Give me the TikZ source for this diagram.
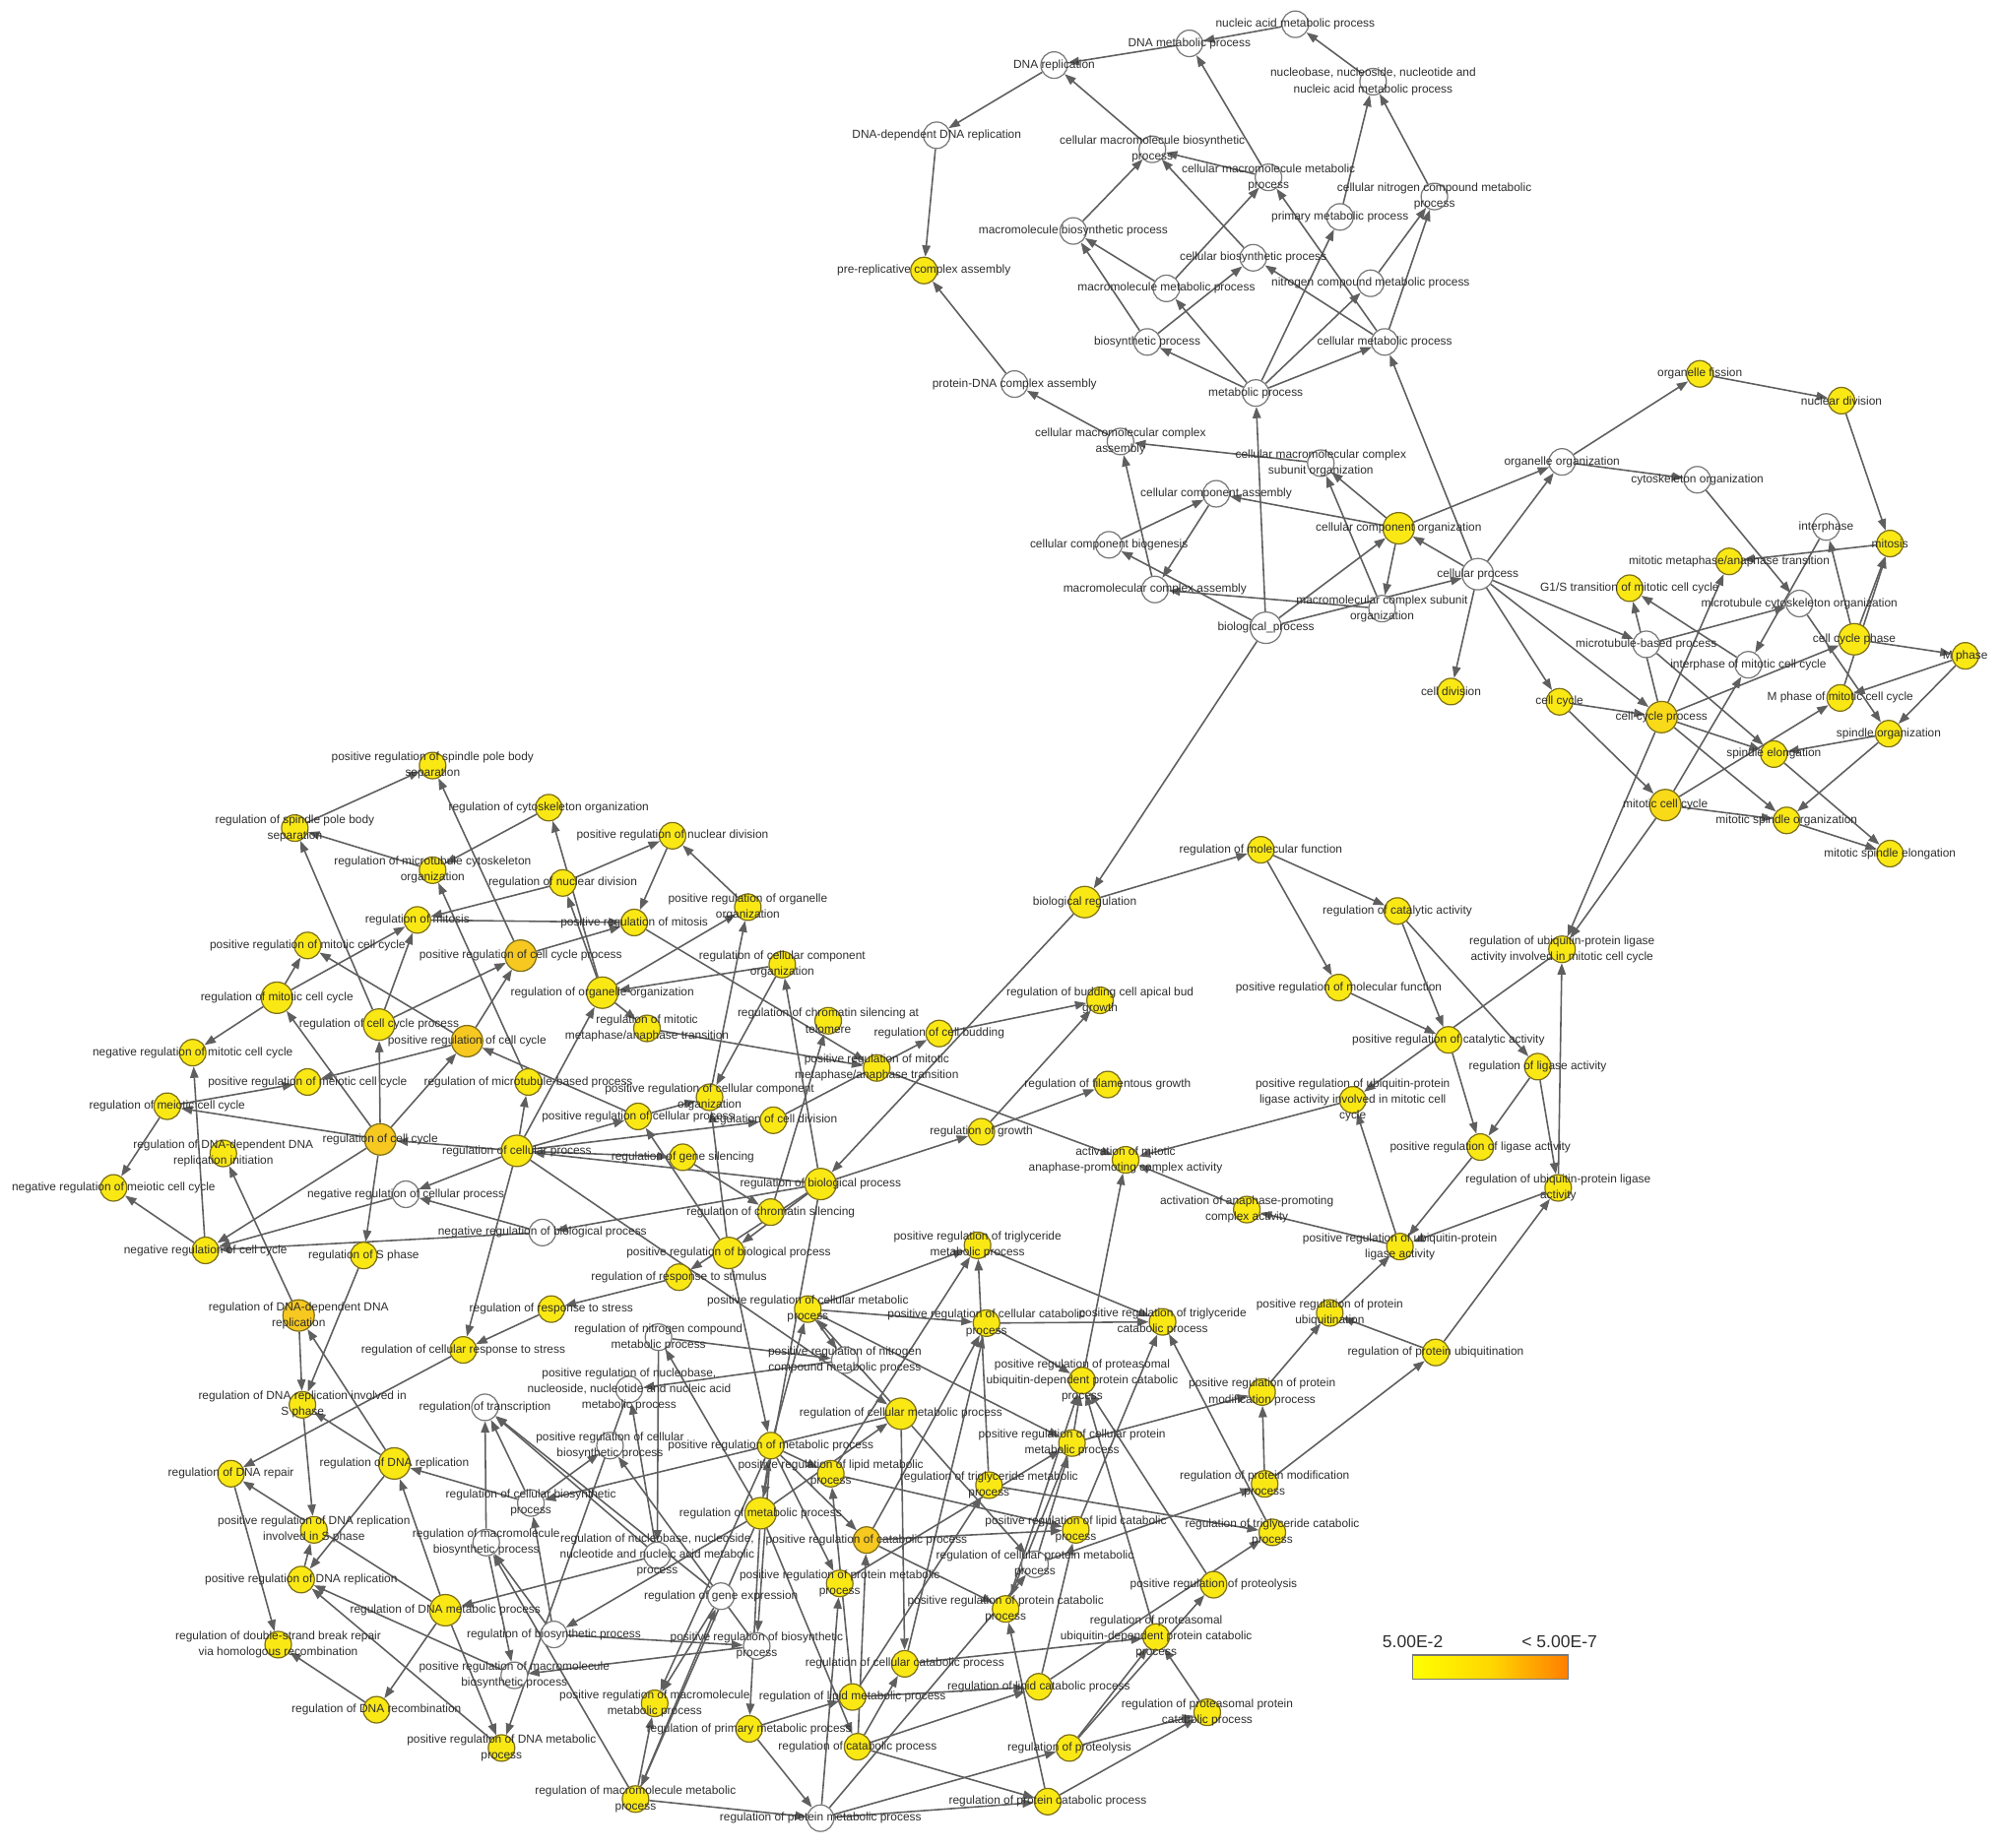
\documentclass[tikz,border=0pt]{standalone}
\usepackage{fontspec}
\setmainfont{Liberation Sans}
\usetikzlibrary{arrows.meta}
\pgfdeclarelayer{bg}
\pgfdeclarelayer{fg}
\pgfsetlayers{bg,main,fg}
\definecolor{goY}{RGB}{250,232,20}
\definecolor{goYd}{RGB}{248,218,24}
\definecolor{goO}{RGB}{246,200,32}
\definecolor{goYb}{RGB}{125,112,25}
\definecolor{goWb}{RGB}{120,120,120}
\definecolor{goEdge}{RGB}{95,95,95}
\definecolor{goText}{RGB}{45,45,45}
\definecolor{legY}{RGB}{255,255,0}
\definecolor{legM}{RGB}{255,215,0}
\definecolor{legO}{RGB}{255,125,0}
\newcommand\gn[4][]{%
 \node[gocirc,#1] (#2) at (#3) {};
 \begin{pgfonlayer}{fg}\node[golab] (#2-l) at (#3) {#4};\end{pgfonlayer}}
\tikzset{
 gocirc/.style={circle, draw=goYb, fill=goY, line width=0.35pt, minimum size=0.27cm, inner sep=0pt},
 gw/.style={fill=white, draw=goWb},
 go/.style={fill=goO},
 gd/.style={fill=goYd},
 gbig/.style={minimum size=0.32cm},
 golab/.style={font=\fontsize{3.4}{4.6}\selectfont, text=goText, align=center, inner sep=0pt},
 goedge/.style={draw=goEdge, line width=0.45pt, -{Triangle[length=3.3pt,width=2.4pt]}},
 leglab/.style={font=\fontsize{5}{6}\selectfont, text=goText, inner sep=0pt}
}
\begin{document}
\begin{tikzpicture}[x=0.013cm,y=-0.013cm]
\useasboundingbox (0,0) rectangle (1568,1448);
% ---- top cluster
\gn[gw]{NAMP}{1015,19}{nucleic acid metabolic process}
\gn[gw]{DMP}{932,34}{DNA metabolic process}
\gn[gw]{DR}{826,51}{DNA replication}
\gn[gw]{NNN}{1076,64}{nucleobase, nucleoside, nucleotide and\\nucleic acid metabolic process}
\gn[gw]{DDR}{734,106}{DNA-dependent DNA replication}
\gn[gw]{CMBP}{903,117}{cellular macromolecule biosynthetic\\process}
\gn[gw]{CMMP}{994,139}{cellular macromolecule metabolic\\process}
\gn[gw]{CNCMP}{1124,154}{cellular nitrogen compound metabolic\\process}
\gn[gw]{PMP}{1050,170}{primary metabolic process}
\gn[gw]{MBP}{841,181}{macromolecule biosynthetic process}
\gn[gw]{CBP}{982,202}{cellular biosynthetic process}
\gn[gw]{MMP}{914,226}{macromolecule metabolic process}
\gn[gw]{NCMP}{1074,222}{nitrogen compound metabolic process}
\gn{PRCA}{724,212}{pre-replicative complex assembly}
\gn[gw]{BP}{899,268}{biosynthetic process}
\gn[gw]{CeMP}{1085,268}{cellular metabolic process}
\gn[gw]{MP}{984,308}{metabolic process}
\gn[gw]{PDCA}{795,301}{protein-DNA complex assembly}
\gn[gw]{CMCA}{878,346}{cellular macromolecular complex\\assembly}
\gn[gw]{CMCSO}{1035,363}{cellular macromolecular complex\\subunit organization}
\gn[gw]{OO}{1224,362}{organelle organization}
\gn{OF}{1332,293}{organelle fission}
\gn{ND}{1443,314}{nuclear division}
\gn[gw]{CO}{1330,376}{cytoskeleton organization}
\gn[gw]{CCA}{953,387}{cellular component assembly}
\gn[gbig]{CCO}{1096,414}{cellular component organization}
\gn[gw]{CCB}{869,427}{cellular component biogenesis}
\gn[gw]{IP}{1431,413}{interphase}
\gn{MIT}{1481,426}{mitosis}
\gn{MMAT}{1355,440}{mitotic metaphase/anaphase transition}
\gn[gw,gbig]{CP}{1158,450}{cellular process}
\gn[gw]{MCA}{905,462}{macromolecular complex assembly}
\gn{G1S}{1277,461}{G1/S transition of mitotic cell cycle}
\gn[gw]{MCO}{1410,473}{microtubule cytoskeleton organization}
\gn[gw]{MCSO}{1083,477}{macromolecular complex subunit\\organization}
\gn[gw,gbig]{BPr}{992,492}{biological\_process}
\gn[gw]{MBPr}{1290,505}{microtubule-based process}
\gn[gbig]{CCP}{1453,501}{cell cycle phase}
\gn[gw]{IMCC}{1370,521}{interphase of mitotic cell cycle}
\gn{MPh}{1540,514}{M phase}
\gn{CD}{1137,542}{cell division}
\gn{MPMCC}{1442,547}{M phase of mitotic cell cycle}
\gn{CC}{1222,550}{cell cycle}
\gn[gd,gbig]{CCPr}{1302,562}{cell cycle process}
\gn{SO}{1480,575}{spindle organization}
\gn{SE}{1390,591}{spindle elongation}
\gn[gd,gbig]{MCC}{1305,631}{mitotic cell cycle}
\gn{MSO}{1400,643}{mitotic spindle organization}
\gn{MSE}{1481,669}{mitotic spindle elongation}
% ---- middle right
\gn{RMF}{988,666}{regulation of molecular function}
\gn[gbig]{BR}{850,707}{biological regulation}
\gn{RCA}{1095,714}{regulation of catalytic activity}
\gn{RUPLAMCC}{1224,744}{regulation of ubiquitin-protein ligase\\activity involved in mitotic cell cycle}
\gn{PRMF}{1049,774}{positive regulation of molecular function}
\gn{RBCABG}{862,784}{regulation of budding cell apical bud\\growth}
\gn{PRCatA}{1135,815}{positive regulation of catalytic activity}
\gn{RCB}{736,810}{regulation of cell budding}
\gn{RLA}{1205,836}{regulation of ligase activity}
\gn{RFG}{868,850}{regulation of filamentous growth}
\gn{PRUPLAMCC}{1060,862}{positive regulation of ubiquitin-protein\\ligase activity involved in mitotic cell\\cycle}
\gn{RG}{769,887}{regulation of growth}
\gn{PRLA}{1160,899}{positive regulation of ligase activity}
\gn{AMAPC}{882,909}{activation of mitotic\\anaphase-promoting complex activity}
\gn{RUPLA}{1221,931}{regulation of ubiquitin-protein ligase\\activity}
\gn{AAPC}{977,948}{activation of anaphase-promoting\\complex activity}
\gn{PRUPLA}{1097,977}{positive regulation of ubiquitin-protein\\ligase activity}
\gn{PRPU}{1042,1029}{positive regulation of protein\\ubiquitination}
\gn{RPU}{1125,1060}{regulation of protein ubiquitination}
\gn{PRPMP}{989,1091}{positive regulation of protein\\modification process}
\gn{RPMP}{991,1163}{regulation of protein modification\\process}
\gn{RTCP}{997,1201}{regulation of triglyceride catabolic\\process}
\gn{PRProt}{951,1242}{positive regulation of proteolysis}
\gn{RPPCP}{946,1342}{regulation of proteasomal protein\\catabolic process}
\gn{PRTCP}{911,1036}{positive regulation of triglyceride\\catabolic process}
\gn{PRTMP}{766,976}{positive regulation of triglyceride\\metabolic process}
\gn{PRCCP}{773,1037}{positive regulation of cellular catabolic\\process}
\gn{PRPUDPCP}{848,1082}{positive regulation of proteasomal\\ubiquitin-dependent protein catabolic\\process}
\gn{PRCPMP}{840,1131}{positive regulation of cellular protein\\metabolic process}
\gn{RTMP}{775,1164}{regulation of triglyceride metabolic\\process}
\gn{PRLCP}{843,1199}{positive regulation of lipid catabolic\\process}
\gn[gw]{RCPMP}{811,1226}{regulation of cellular protein metabolic\\process}
\gn{PRPCP}{788,1261}{positive regulation of protein catabolic\\process}
\gn{RPUDPCP}{906,1283}{regulation of proteasomal\\ubiquitin-dependent protein catabolic\\process}
\gn{RCCP}{709,1304}{regulation of cellular catabolic process}
\gn{RLCP}{814,1322}{regulation of lipid catabolic process}
\gn{RProt}{838,1370}{regulation of proteolysis}
\gn{RPCP}{821,1412}{regulation of protein catabolic process}
\gn[gw]{RPrMP}{643,1425}{regulation of protein metabolic process}
\gn{RCatP}{672,1369}{regulation of catabolic process}
\gn{RMMP}{498,1410}{regulation of macromolecule metabolic\\process}
\gn{RPMPb}{587,1355}{regulation of primary metabolic process}
\gn{PRMMP}{513,1335}{positive regulation of macromolecule\\metabolic process}
\gn{RLMP}{668,1330}{regulation of lipid metabolic process}
\gn[gw]{PRBP}{593,1290}{positive regulation of biosynthetic\\process}
\gn[gw]{RGE}{565,1251}{regulation of gene expression}
\gn{PRPrMP}{658,1241}{positive regulation of protein metabolic\\process}
\gn[go]{PRCatP}{679,1207}{positive regulation of catabolic process}
\gn[gbig]{RMP}{596,1186}{regulation of metabolic process}
\gn{PRLMP}{651,1155}{positive regulation of lipid metabolic\\process}
\gn{PRMetP}{604,1133}{positive regulation of metabolic process}
\gn[gbig]{RCMP}{706,1108}{regulation of cellular metabolic process}
\gn[gw]{PRNCMP}{662,1066}{positive regulation of nitrogen\\compound metabolic process}
\gn{PRCMP}{633,1026}{positive regulation of cellular metabolic\\process}
\gn[gw]{RNCMP}{516,1048}{regulation of nitrogen compound\\metabolic process}
\gn[gw]{PRNNN}{493,1089}{positive regulation of nucleobase,\\nucleoside, nucleotide and nucleic acid\\metabolic process}
\gn[gw]{RT}{380,1103}{regulation of transcription}
\gn[gw]{PRCBP}{478,1133}{positive regulation of cellular\\biosynthetic process}
\gn[gw]{RCBP}{416,1178}{regulation of cellular biosynthetic\\process}
\gn[gw]{RMBP}{381,1209}{regulation of macromolecule\\biosynthetic process}
\gn[gw]{RNNN}{515,1219}{regulation of nucleobase, nucleoside,\\nucleotide and nucleic acid metabolic\\process}
\gn[gbig]{RDMP}{349,1262}{regulation of DNA metabolic process}
\gn[gw]{RBP}{434,1281}{regulation of biosynthetic process}
\gn[gw]{PRMBP}{403,1313}{positive regulation of macromolecule\\biosynthetic process}
\gn{PRDMP}{393,1370}{positive regulation of DNA metabolic\\process}
\gn{RDRec}{295,1340}{regulation of DNA recombination}
\gn{RDSBR}{218,1289}{regulation of double-strand break repair\\via homologous recombination}
\gn{PRDR}{236,1238}{positive regulation of DNA replication}
\gn{PRDRS}{246,1199}{positive regulation of DNA replication\\involved in S phase}
\gn{RDRep}{181,1155}{regulation of DNA repair}
\gn[gbig]{RDRepl}{309,1147}{regulation of DNA replication}
\gn{RDRS}{237,1101}{regulation of DNA replication involved in\\S phase}
\gn[go,gbig]{RDDR}{234,1031}{regulation of DNA-dependent DNA\\replication}
\gn{RSP}{285,984}{regulation of S phase}
\gn{NRCC}{161,980}{negative regulation of cell cycle}
\gn{RCRS}{363,1058}{regulation of cellular response to stress}
\gn{RRS}{432,1026}{regulation of response to stress}
\gn{RRStim}{532,1001}{regulation of response to stimulus}
\gn[gbig]{PRBioP}{571,982}{positive regulation of biological process}
\gn[gw]{NRBioP}{425,966}{negative regulation of biological process}
\gn{RCS}{604,950}{regulation of chromatin silencing}
\gn[gbig]{RBioP}{643,928}{regulation of biological process}
\gn{RGS}{535,907}{regulation of gene silencing}
\gn[gbig]{RCP}{405,902}{regulation of cellular process}
\gn{PRCP}{500,875}{positive regulation of cellular process}
\gn{PRCCO}{556,860}{positive regulation of cellular component\\organization}
\gn{RCD}{606,878}{regulation of cell division}
\gn{RMBPr}{414,848}{regulation of microtubule-based process}
\gn{RMMAT}{507,806}{regulation of mitotic\\metaphase/anaphase transition}
\gn{PRMMAT}{687,837}{positive regulation of mitotic\\metaphase/anaphase transition}
\gn{RCST}{649,800}{regulation of chromatin silencing at\\telomere}
\gn{RCCO}{613,756}{regulation of cellular component\\organization}
\gn[gbig]{ROO}{472,778}{regulation of organelle organization}
\gn[go,gbig]{PRCCPr}{408,749}{positive regulation of cell cycle process}
\gn{PRMit}{497,723}{positive regulation of mitosis}
\gn{PROO}{586,711}{positive regulation of organelle\\organization}
\gn{RND}{441,692}{regulation of nuclear division}
\gn{PRND}{527,655}{positive regulation of nuclear division}
\gn{RCO}{430,633}{regulation of cytoskeleton organization}
\gn{PRSPBS}{339,600}{positive regulation of spindle pole body\\separation}
\gn{RSPBS}{231,649}{regulation of spindle pole body\\separation}
\gn{RMCO}{339,682}{regulation of microtubule cytoskeleton\\organization}
\gn{RMit}{327,721}{regulation of mitosis}
\gn{PRMCC}{241,741}{positive regulation of mitotic cell cycle}
\gn[go,gbig]{PRCC}{366,816}{positive regulation of cell cycle}
\gn[gbig]{RMCC}{217,782}{regulation of mitotic cell cycle}
\gn[gbig]{RCCPr}{297,803}{regulation of cell cycle process}
\gn{NRMCC}{151,825}{negative regulation of mitotic cell cycle}
\gn{PRMeCC}{241,848}{positive regulation of meiotic cell cycle}
\gn{RMeCC}{131,867}{regulation of meiotic cell cycle}
\gn[go,gbig]{RCC}{298,893}{regulation of cell cycle}
\gn{RDDRI}{175,904}{regulation of DNA-dependent DNA\\replication initiation}
\gn{NRMeCC}{89,931}{negative regulation of meiotic cell cycle}
\gn[gw]{NRCP}{318,936}{negative regulation of cellular process}
% ---- edges
\begin{pgfonlayer}{bg}
\foreach \a/\b in {NAMP/DMP, DMP/DR, DR/DDR, DDR/PRCA, PDCA/PRCA, CMBP/DR, CMMP/DMP, CMMP/CMBP, NNN/NAMP, PMP/NNN, CNCMP/NNN, CeMP/CNCMP, NCMP/CNCMP, MBP/CMBP, CBP/CMBP, MMP/CMMP, MMP/MBP, BP/MBP, BP/CBP, MP/BP, MP/MMP, MP/PMP, MP/NCMP, MP/CeMP, CeMP/CMMP, CeMP/CBP, CP/CeMP, BPr/MP, CMCA/PDCA, CMCSO/CMCA, MCA/CMCA, CCA/MCA, CCB/CCA, CCO/CCA, CCO/CMCSO, CCO/MCSO, MCSO/CMCSO, MCSO/MCA, BPr/CCB, BPr/CCO, BPr/CP, CP/CCO, CP/OO, CCO/OO, OO/OF, OF/ND, ND/MIT, OO/CO, CO/MCO, CP/CD, CP/CC, CP/CCPr, CP/MBPr, MBPr/MCO, CCPr/G1S, IMCC/G1S, CCPr/MMAT, MIT/MMAT, IP/IMCC, MCC/IMCC, CCP/IP, CCP/MIT, MPMCC/MIT, CCP/MPh, MPh/MPMCC, MPh/SO, MCO/SO, CCPr/CCP, CCPr/SE, MBPr/SE, SO/SE, MCC/MPMCC, SE/MSE, SO/MSO, MCC/MSO, MSO/MSE, CC/CCPr, CC/MCC, CCPr/MSO, CCPr/RUPLAMCC, MCC/RUPLAMCC, BPr/BR}
 {\draw[goedge] (\a) -- (\b);}
\foreach \a/\b in {BR/RMF, RMF/RCA, RMF/PRMF, RCA/PRCatA, RCA/RLA, PRMF/PRCatA, PRCatA/PRLA, RLA/PRLA, RLA/RUPLA, RUPLA/RUPLAMCC, RUPLAMCC/PRUPLAMCC, PRUPLA/PRUPLAMCC, PRLA/PRUPLA, RUPLA/PRUPLA, RPU/RUPLA, PRPU/PRUPLA, RPU/PRPU, PRPMP/PRPU, RPMP/RPU, RPMP/PRPMP, PRUPLA/AAPC, AAPC/AMAPC, PRUPLAMCC/AMAPC, PRMMAT/AMAPC, PRPUDPCP/AMAPC, RG/RBCABG, RG/RFG, RCB/RBCABG, BR/RBioP, RBioP/RG, RCD/RCB}
 {\draw[goedge] (\a) -- (\b);}
\foreach \a/\b in {RTMP/PRTMP, PRLMP/PRTMP, PRCCP/PRTCP, PRTMP/PRTCP, RTCP/PRTCP, PRLCP/PRTCP, PRCatP/PRCCP, RCCP/PRCCP, PRCMP/PRCCP, PRCMP/PRTMP, PRCCP/PRPUDPCP, PRCPMP/PRPUDPCP, PRPCP/PRPUDPCP, RPUDPCP/PRPUDPCP, PRProt/PRPUDPCP, RCPMP/PRCPMP, PRPrMP/PRCPMP, PRCMP/PRCPMP, PRCPMP/PRPMP, PRCPMP/PRPCP, RCPMP/RPMP, RTMP/RTCP, RLCP/RTCP, RLCP/PRLCP, PRLMP/PRLCP, PRCatP/PRLCP, RCatP/RCCP, RCatP/RLCP, RCCP/RPUDPCP, RPPCP/RPUDPCP, RProt/RPUDPCP, RProt/RPPCP, RProt/PRProt, RPCP/RPPCP, RPCP/PRPCP, PRCatP/PRPCP, RPrMP/RProt, RPrMP/RPCP, RCatP/RPCP, RPrMP/PRPrMP, RPrMP/RCPMP, RLMP/RTMP, RLMP/RLCP, RLMP/PRLMP, RPMPb/RLMP, RPMPb/RPrMP, RCatP/PRCatP, RCMP/RCCP, RCMP/RCPMP, RCMP/PRCMP, RCMP/RCBP}
 {\draw[goedge] (\a) -- (\b);}
\foreach \a/\b in {RMP/RBP, RMP/RMMP, RMP/PRMetP, RMP/RNCMP, RMP/RCMP, RMP/RCatP, RMP/RPMPb, PRMetP/PRBP, PRMetP/PRCMP, PRMetP/PRMMP, PRMetP/PRCatP, PRMetP/PRLMP, PRMetP/PRPrMP, RNCMP/RNNN, RNCMP/PRNCMP, PRCMP/PRNCMP, PRNCMP/PRNNN, RNNN/PRNNN, RNNN/RT, RNNN/RDMP, RGE/RT, RMBP/RT, RCBP/RT, RMMP/RGE, RMMP/PRMMP, RMMP/RPrMP, RMMP/RMBP, RGE/PRMMP, RBP/RCBP, RBP/RMBP, RBP/PRBP, RCBP/PRCBP, PRBP/PRCBP, PRBP/PRMBP, RMBP/PRMBP, PRNNN/PRDMP}
 {\draw[goedge] (\a) -- (\b);}
\foreach \a/\b in {RBioP/RMP, RBioP/PRBioP, RBioP/RRStim, RBioP/NRBioP, RBioP/RCP, RBioP/RCCO, PRBioP/PRCP, PRBioP/PRMetP, PRBioP/PRCCO, RRStim/RRS, RRS/RCRS, RCP/RCRS, RCP/RCC, RCP/NRCP, RCP/RMBPr, RCP/ROO, RCP/PRCP, RCP/RGS, RCP/RCD, RCP/RCMP, NRBioP/NRCP, NRBioP/NRCC, NRCP/NRCC, NRCC/NRMCC, NRCC/NRMeCC, RCC/RMCC, RCC/RCCPr, RCC/PRCC, RCC/RMeCC, RCC/NRCC, RCC/RSP, RMeCC/PRMeCC, RMeCC/NRMeCC, PRCC/PRMeCC, PRCC/PRMCC, PRCC/PRCCPr, RMCC/PRMCC, RMCC/NRMCC, RMCC/RMit, RCCPr/RMit, RCCPr/PRCCPr, RCCPr/RSPBS, PRCCPr/PRMit, PRCCPr/PRSPBS, RMit/PRMit, RND/RMit, RND/PRND, PRND/PRMit, PROO/PRND, ROO/PROO, ROO/RND, ROO/RCO, ROO/RMMAT, RCCO/ROO, RCCO/PRCCO, PRCCO/PROO, RCO/RMCO, RMBPr/RMCO, RMCO/RSPBS, RSPBS/PRSPBS, PRCP/PRCC, PRCP/PRCCO, RMMAT/PRMMAT, PRMit/PRMMAT, RGS/RCS, RCS/RCST, RDDR/RDDRI}
 {\draw[goedge] (\a) -- (\b);}
\foreach \a/\b in {RSP/RDRS, RDDR/RDRS, RDRepl/RDDR, RDRepl/RDRS, RDRepl/PRDR, RDRS/PRDRS, PRDR/PRDRS, RDMP/RDRepl, RDMP/RDRep, RDMP/RDRec, RDMP/PRDMP, PRDMP/PRDR, RCRS/RDRep, RDRep/RDSBR, RDRec/RDSBR, RCBP/RDRepl, PRMBP/PRDR}
 {\draw[goedge] (\a) -- (\b);}
\end{pgfonlayer}
% ---- legend
\shade[left color=legY, right color=legO, middle color=legM, draw=goWb, line width=0.4pt] (1107,1297) rectangle (1229,1316);
\node[leglab] (legmin) at (1107,1287) {5.00E-2};
\node[leglab] (legmax) at (1222,1287) {< 5.00E-7};
\end{tikzpicture}
\end{document}
